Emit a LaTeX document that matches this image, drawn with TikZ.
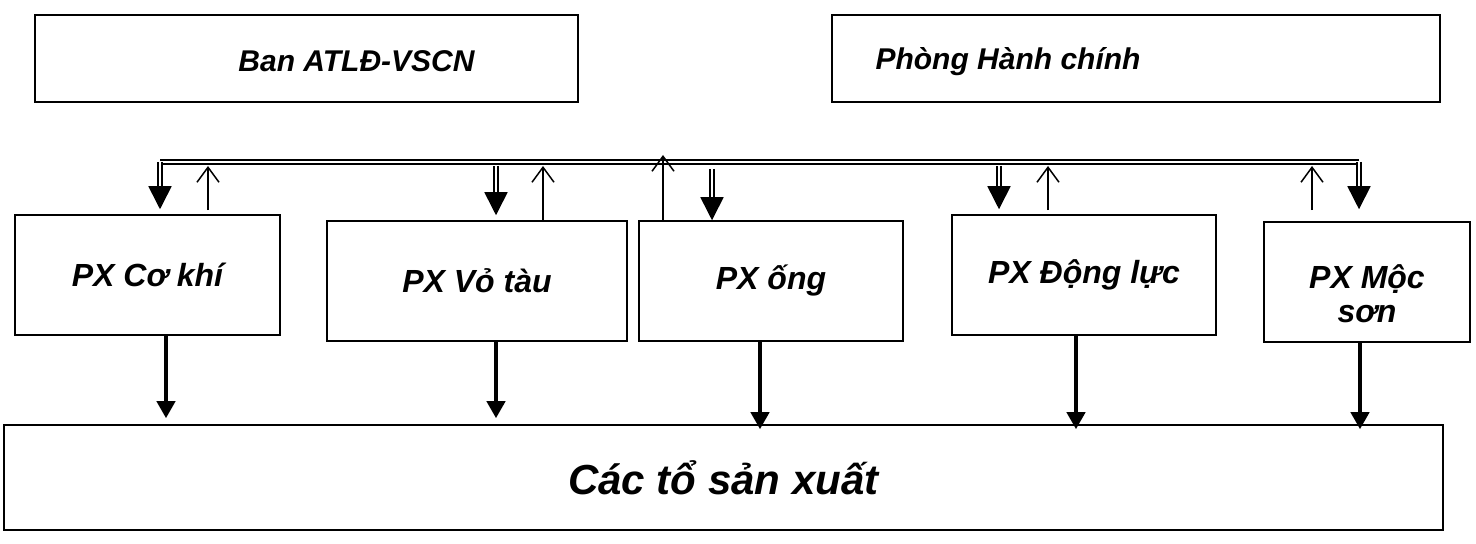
\documentclass[tikz,border=0pt]{standalone}
\usepackage{fontspec}
\setmainfont{Liberation Sans}
\usetikzlibrary{arrows.meta}

\begin{document}
\begin{tikzpicture}[
  x=0.5pt, y=-0.5pt,
  box/.style={draw, line width=0.75pt, inner sep=0pt, align=center},
  office/.style={box, minimum height=43.5pt},
  officetext/.style={font=\bfseries\itshape\fontsize{15}{18}\selectfont},
  px/.style={box, minimum height=60pt, font=\bfseries\itshape\fontsize{16}{17}\selectfont},
  bus/.style={double, line width=0.8pt, double distance=1.4pt},
  down/.style={bus, -{Triangle[length=11.5pt,width=11.5pt]}},
  up/.style={line width=0.75pt, -{Straight Barb[length=7.5pt,width=11pt]}},
  feed/.style={line width=2pt, -{Triangle[length=8.5pt,width=9pt]}}
]
  \useasboundingbox (0,0) rectangle (1476,544);

  % offices on top
  \node[office, minimum width=271.5pt,
        label={[officetext, xshift=25pt, yshift=-1.5pt]center:Ban ATLĐ-VSCN}] (ban) at (306.5,58.5) {};
  \node[office, minimum width=304pt,
        label={[officetext, xshift=-64pt, yshift=-1.5pt]center:Phòng Hành chính}] (phong) at (1136,58.5) {};

  % workshops
  \node[px, minimum width=132.5pt] (cokhi) at (147.5,275) {PX Cơ khí};
  \node[px, minimum width=150pt] (votau) at (477,281) {PX Vỏ tàu};
  \node[px, minimum width=132pt] (ong) at (771,281) {PX ống};
  \node[px, minimum width=132pt] (dongluc) at (1084,275) {PX Động lực};
  \node[px, minimum width=103pt,
        label={[align=center, yshift=-6pt, font=\bfseries\itshape\fontsize{16}{17}\selectfont]center:PX Mộc\\sơn}]
        (mocson) at (1367,282) {};

  % production teams
  \node[box, minimum width=719.5pt, minimum height=52.5pt,
        font=\bfseries\itshape\fontsize{21}{25}\selectfont] (sx) at (723.5,477.5) {Các tổ sản xuất};

  % double bus line
  \coordinate (busL) at (160,162);
  \coordinate (busR) at (1359,162);
  \draw[bus] (busL) -- (busR);

  % taps on the bus
  \coordinate (u1) at (208,166);
  \coordinate (d2) at (496,166);
  \coordinate (u2) at (543,166);
  \coordinate (u3) at (663,155);
  \coordinate (d3) at (712,169);
  \coordinate (d4) at (999,166);
  \coordinate (u4) at (1048,166);
  \coordinate (u5) at (1312,166);

  \draw[down, shorten >=2.5pt] (busL) -- (cokhi.north -| busL);
  \draw[up, shorten <=2pt] (cokhi.north -| u1) -- (u1);
  \draw[down, shorten >=2.5pt] (d2) -- (votau.north -| d2);
  \draw[up] (votau.north -| u2) -- (u2);
  \draw[up] (ong.north -| u3) -- (u3);
  \draw[down] (d3) -- (ong.north -| d3);
  \draw[down, shorten >=2.5pt] (d4) -- (dongluc.north -| d4);
  \draw[up, shorten <=2pt] (dongluc.north -| u4) -- (u4);
  \draw[up, shorten <=5.5pt] (mocson.north -| u5) -- (u5);
  \draw[down, shorten >=6pt] (busR) -- (mocson.north -| busR);

  % feeds down to the teams
  \coordinate (f1) at (166,0);
  \coordinate (f2) at (496,0);
  \coordinate (f3) at (760,0);
  \coordinate (f4) at (1076,0);
  \coordinate (f5) at (1360,0);
  \draw[feed, shorten >=3pt] (cokhi.south -| f1) -- (sx.north -| f1);
  \draw[feed, shorten >=3pt] (votau.south -| f2) -- (sx.north -| f2);
  \draw[feed, shorten >=-2.5pt] (ong.south -| f3) -- (sx.north -| f3);
  \draw[feed, shorten >=-2.5pt] (dongluc.south -| f4) -- (sx.north -| f4);
  \draw[feed, shorten >=-2.5pt] (mocson.south -| f5) -- (sx.north -| f5);
\end{tikzpicture}
\end{document}
